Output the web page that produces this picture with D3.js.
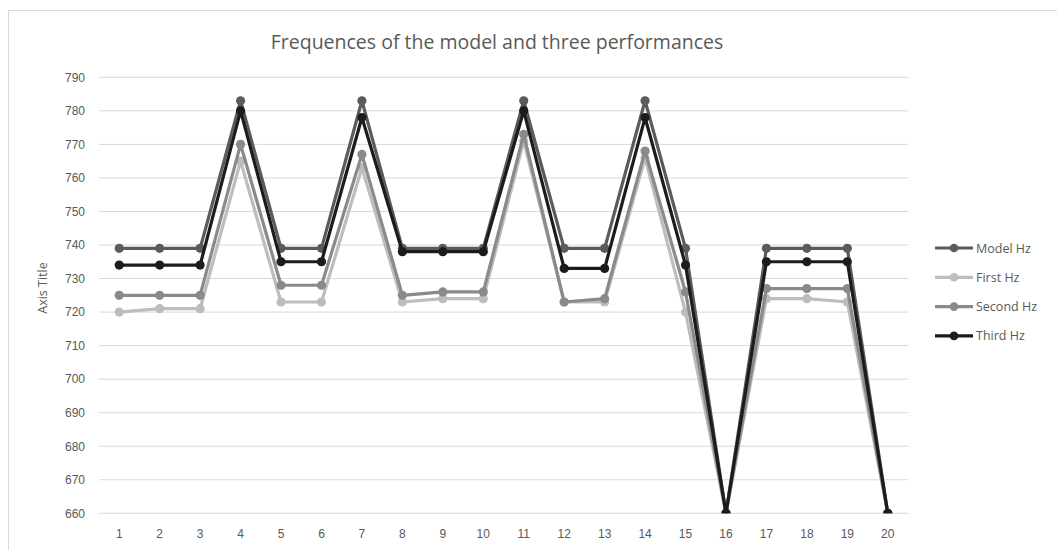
<!DOCTYPE html>
<html>
<head>
<meta charset="utf-8">
<script src="https://cdn.jsdelivr.net/npm/d3@7"></script>
<style>
  body { margin: 0; background: #fff; }
  svg { display: block; font-family: "Open Sans", sans-serif; }
  .tick-label { fill: #595959; font-size: 12px; }
  .legend-label { fill: #595959; font-size: 12.5px; }
</style>
</head>
<body>
<svg id="chart" width="1057" height="550"></svg>
<script>
// ---------------------------//
//       DATA                 //
// ---------------------------//
var positions = d3.range(1, 21);
var seriesNames = ["Model Hz", "First Hz", "Second Hz", "Third Hz"];
var seriesColors = ["#5b5b5b", "#bdbdbd", "#8a8a8a", "#1c1c1c"];

var modelHz  = [739, 739, 739, 783, 739, 739, 783, 739, 739, 739, 783, 739, 739, 783, 739, 660, 739, 739, 739, 660];
var firstHz  = [720, 721, 721, 765, 723, 723, 763, 723, 724, 724, 771, 723, 723, 766, 720, 660, 724, 724, 723, 660];
var secondHz = [725, 725, 725, 770, 728, 728, 767, 725, 726, 726, 773, 723, 724, 768, 726, 660, 727, 727, 727, 660];
var thirdHz  = [734, 734, 734, 780, 735, 735, 778, 738, 738, 738, 780, 733, 733, 778, 734, 660, 735, 735, 735, 660];

var yTicks = d3.range(660, 791, 10);

var allSeries = [modelHz, firstHz, secondHz, thirdHz];

// ---------------------------//
//       LAYOUT               //
// ---------------------------//
var svg = d3.select("#chart");

var plotLeft = 99, plotRight = 908, plotTop = 77.3, plotBottom = 513.3;

// chart frame
svg.append("rect")
  .attr("x", 8.5).attr("y", 10.5)
  .attr("width", 1070).attr("height", 560)
  .attr("fill", "#fff")
  .attr("stroke", "#d9d9d9");

var x = d3.scaleBand()
  .domain(positions)
  .range([plotLeft, plotRight]);

var y = d3.scaleLinear()
  .domain([660, 790])
  .range([plotBottom, plotTop]);

// gridlines
svg.append("g")
  .selectAll("line")
  .data(yTicks)
  .enter()
  .append("line")
  .attr("x1", plotLeft)
  .attr("x2", plotRight)
  .attr("y1", function(d) { return y(d); })
  .attr("y2", function(d) { return y(d); })
  .attr("stroke", "#d9d9d9")
  .attr("stroke-width", 1);

// Y axis labels
var yAxis = svg.append("g")
  .attr("transform", "translate(" + (plotLeft - 14) + ",0)")
  .call(d3.axisLeft(y).tickValues(yTicks).tickSize(0).tickPadding(0));
yAxis.select(".domain").remove();
yAxis.selectAll("text").attr("class", "tick-label").attr("fill", null);

// X axis labels
var xAxis = svg.append("g")
  .attr("transform", "translate(0," + (plotBottom + 16) + ")")
  .call(d3.axisBottom(x).tickSize(0).tickPadding(0));
xAxis.select(".domain").remove();
xAxis.selectAll("text").attr("class", "tick-label").attr("fill", null);

// Axis title
svg.append("text")
  .attr("transform", "translate(47,288) rotate(-90)")
  .attr("text-anchor", "middle")
  .attr("fill", "#595959")
  .style("font-size", "12.5px")
  .text("Axis Title");

// Chart title
svg.append("text")
  .attr("x", 497)
  .attr("y", 49)
  .attr("text-anchor", "middle")
  .attr("fill", "#595959")
  .style("font-size", "19.5px")
  .text("Frequences of the model and three performances");

// ---------------------------//
//       LINES + MARKERS      //
// ---------------------------//
svg.append("clipPath")
  .attr("id", "plotClip")
  .append("rect")
  .attr("x", plotLeft).attr("y", plotTop - 10)
  .attr("width", plotRight - plotLeft).attr("height", plotBottom - plotTop + 10);

var cx = function(i) { return x(positions[i]) + x.bandwidth() / 2; };

var line = d3.line()
  .x(function(d, i) { return cx(i); })
  .y(function(d) { return y(d); });

var plot = svg.append("g").attr("clip-path", "url(#plotClip)");

allSeries.forEach(function(values, s) {
  var g = plot.append("g");
  g.append("path")
    .datum(values)
    .attr("d", line)
    .attr("fill", "none")
    .attr("stroke", seriesColors[s])
    .attr("stroke-width", 3.2)
    .attr("stroke-linejoin", "round");
  g.selectAll("circle")
    .data(values)
    .enter()
    .append("circle")
    .attr("cx", function(d, i) { return cx(i); })
    .attr("cy", function(d) { return y(d); })
    .attr("r", 4.6)
    .attr("fill", seriesColors[s]);
});

// ---------------------------//
//       LEGEND               //
// ---------------------------//
var legend = svg.append("g")
  .selectAll("g")
  .data(seriesNames)
  .enter()
  .append("g")
  .attr("transform", function(d, i) { return "translate(935," + (248 + i * 29.3) + ")"; });

legend.append("line")
  .attr("x1", 0).attr("x2", 38)
  .attr("y1", 0).attr("y2", 0)
  .attr("stroke", function(d, i) { return seriesColors[i]; })
  .attr("stroke-width", 3.2);

legend.append("circle")
  .attr("cx", 19).attr("cy", 0).attr("r", 4.3)
  .attr("fill", function(d, i) { return seriesColors[i]; });

legend.append("text")
  .attr("class", "legend-label")
  .attr("x", 41)
  .attr("y", 4.5)
  .text(function(d) { return d; });
</script>
</body>
</html>
